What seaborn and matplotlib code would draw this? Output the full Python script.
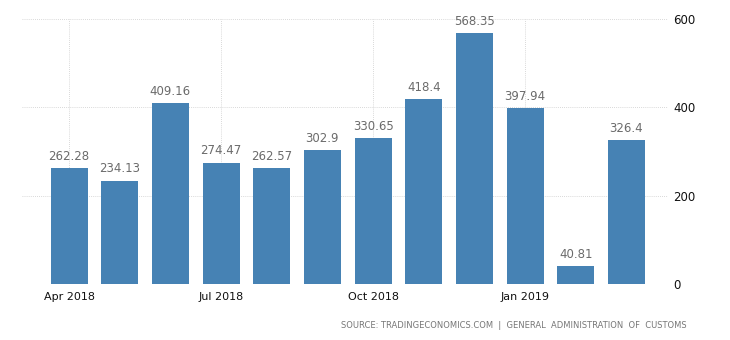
import pandas as pd
import matplotlib
matplotlib.use("Agg")
import matplotlib.pyplot as plt
import seaborn as sns

months = ["Apr 2018", "May 2018", "Jun 2018", "Jul 2018", "Aug 2018", "Sep 2018",
          "Oct 2018", "Nov 2018", "Dec 2018", "Jan 2019", "Feb 2019", "Mar 2019"]
values = [262.28, 234.13, 409.16, 274.47, 262.57, 302.9,
          330.65, 418.4, 568.35, 397.94, 40.81, 326.4]
value_labels = ["262.28", "234.13", "409.16", "274.47", "262.57", "302.9",
                "330.65", "418.4", "568.35", "397.94", "40.81", "326.4"]
tick_months = ["Apr 2018", "Jul 2018", "Oct 2018", "Jan 2019"]
y_ticks = [0, 200, 400, 600]

df = pd.DataFrame({"month": months, "value": values})

sns.set_theme(style="white")
plt.rcParams["font.family"] = ["DejaVu Sans"]

fig = plt.figure(figsize=(7.3, 3.4), dpi=100)
ax = fig.add_axes([0.030, 0.165, 0.885, 0.779])

sns.barplot(data=df, x="month", y="value", order=months, color="#4682B4",
            saturation=1, width=0.73, linewidth=0, ax=ax, zorder=2)

for i, (v, lab) in enumerate(zip(values, value_labels)):
    ax.text(i, v + 12, lab, ha="center", va="bottom", fontsize=8.5, color="#6b6b6b")

ax.set_xlim(-0.93, 11.82)
ax.set_ylim(0, 600)
ax.set_xticks([months.index(m) for m in tick_months])
ax.set_xticklabels(tick_months, fontsize=8, color="#111111")
ax.yaxis.tick_right()
ax.set_yticks(y_ticks)
ax.set_yticklabels([str(t) for t in y_ticks], fontsize=8.5, color="#111111")
ax.tick_params(axis="both", length=0, pad=4)
ax.tick_params(axis="x", pad=6)
ax.set_xlabel("")
ax.set_ylabel("")

ax.grid(True, axis="both", linestyle=(0, (1, 1.5)), color="#cccccc", linewidth=0.6, zorder=0)
for s in ax.spines.values():
    s.set_visible(False)

fig.text(0.94, 0.043, "SOURCE: TRADINGECONOMICS.COM  |  GENERAL  ADMINISTRATION  OF  CUSTOMS",
         ha="right", va="center", fontsize=6, color="#777777")

fig.savefig("out.png", dpi=100)
